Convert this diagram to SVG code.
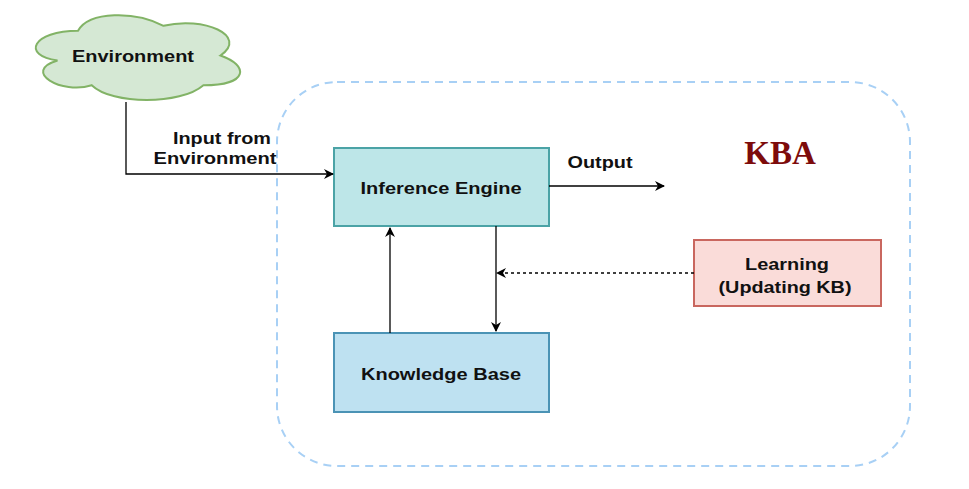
<svg xmlns="http://www.w3.org/2000/svg" width="969" height="489" viewBox="0 0 969 489">
<defs>
<marker id="arr" viewBox="0 0 10 10" refX="9" refY="5" markerWidth="10" markerHeight="10" markerUnits="userSpaceOnUse" orient="auto">
<path d="M0,0 L10,5 L0,10 L3,5 Z" fill="#000"/>
</marker>
</defs>
<style>
.lbl{font-family:"Liberation Sans",Arial,sans-serif;font-size:16px;font-weight:bold;fill:#111;text-anchor:middle;dominant-baseline:central}
.conn{fill:none;stroke:#000;stroke-width:1.3}
</style>
<rect width="969" height="489" fill="#fff"/>
<g id="container">
<rect x="277" y="82" width="633" height="384" rx="60" ry="60" fill="none" stroke="#a8d0f5" stroke-width="2" stroke-dasharray="8 6"/>
</g>
<g id="environment">
<path d="M78,30.75 C32.4,30.75 21,55.5 57.5,60.45 C21,71.3 62,95.1 91.7,85.2 C112.2,105 180.6,105 203.4,85.2 C249,85.2 249,65.4 220.5,55.5 C249,35.7 203.4,15.9 163.5,25.8 C135,10.95 89.4,10.95 78,30.75 Z" fill="#d5e8d4" stroke="#82b366" stroke-width="2"/>
<text class="lbl" x="133" y="56" textLength="122" lengthAdjust="spacingAndGlyphs">Environment</text>
</g>
<g id="inference-engine">
<rect x="334" y="148" width="215" height="78" fill="#bde6e8" stroke="#4ba3a6" stroke-width="2"/>
<text class="lbl" x="441" y="188" textLength="161" lengthAdjust="spacingAndGlyphs">Inference Engine</text>
</g>
<g id="knowledge-base">
<rect x="334" y="333" width="215" height="79" fill="#bee1f1" stroke="#4b93b5" stroke-width="2"/>
<text class="lbl" x="441" y="374" textLength="160" lengthAdjust="spacingAndGlyphs">Knowledge Base</text>
</g>
<g id="learning">
<rect x="694" y="240" width="187" height="66" fill="#fadcd9" stroke="#c9675f" stroke-width="2"/>
<text class="lbl" x="787" y="264" textLength="84" lengthAdjust="spacingAndGlyphs">Learning</text>
<text class="lbl" x="785" y="287" textLength="133" lengthAdjust="spacingAndGlyphs">(Updating KB)</text>
</g>
<g id="kba-title">
<text x="780" y="164" font-family="'Liberation Serif','Times New Roman',serif" font-size="33" font-weight="bold" fill="#7d0b0b" text-anchor="middle">KBA</text>
</g>
<g id="connectors">
<path class="conn" d="M126,102 L126,174 L333,174" marker-end="url(#arr)"/>
<text class="lbl" x="222" y="138" textLength="98" lengthAdjust="spacingAndGlyphs">Input from</text>
<text class="lbl" x="215" y="158" textLength="123" lengthAdjust="spacingAndGlyphs">Environment</text>
<path class="conn" d="M549,186 L664,186" marker-end="url(#arr)"/>
<text class="lbl" x="600" y="162" textLength="65" lengthAdjust="spacingAndGlyphs">Output</text>
<path class="conn" d="M390,333 L390,228" marker-end="url(#arr)"/>
<path class="conn" d="M496,226 L496,331" marker-end="url(#arr)"/>
<path class="conn" d="M694,273 L497,273" stroke-dasharray="3 3" marker-end="url(#arr)"/>
</g>
</svg>
